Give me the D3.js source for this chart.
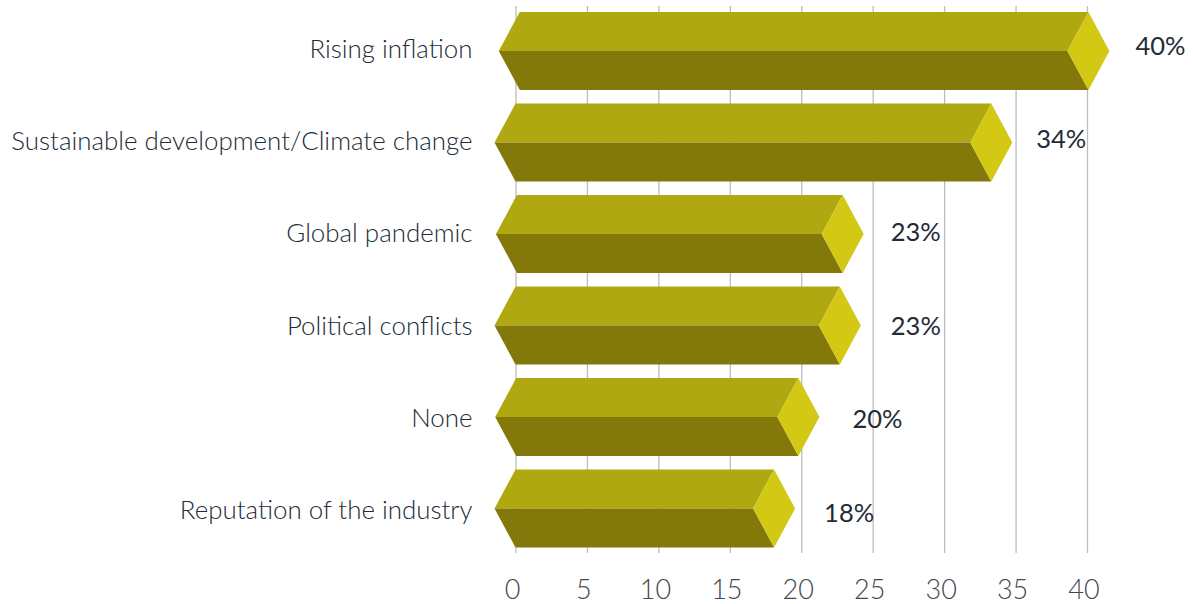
<!DOCTYPE html>
<html><head><meta charset="utf-8">
<script src="https://cdnjs.cloudflare.com/ajax/libs/d3/7.8.5/d3.min.js"></script>
<style>html,body{margin:0;background:#fff}svg{display:block}
text{font-family:Lato,"Open Sans",sans-serif;font-weight:300}</style></head>
<body><svg id="c" width="1193" height="604"></svg>
<script>
const categories=["Rising inflation","Sustainable development/Climate change","Global pandemic","Political conflicts","None","Reputation of the industry"];
const barStart=[0.3,0,0.1,0,0.05,0];
const barEnd=[40.1,33.3,22.9,22.7,19.8,18.1];
const labels=["40%","34%","23%","23%","20%","18%"];
const tickValues=[0,5,10,15,20,25,30,35,40];

const svg=d3.select("#c");
const x=d3.scaleLinear().domain([0,40]).range([515.5,1087]);
const y=d3.scaleBand().domain(categories).range([12,547.5]).paddingInner(0.149).paddingOuter(0);
const labelY=d3.scalePoint().domain(categories).range([54.5,521.5]);
const catY=d3.scalePoint().domain(categories).range([58,519]);
const depth=21;
const grid="#bdbdbd", ink="#232b36";

const axis=d3.axisBottom(x).tickValues(tickValues).tickSize(547).tickSizeOuter(0).tickPadding(24);
const ag=svg.append("g").attr("transform","translate(0,6)").call(axis);
ag.select(".domain").remove();
ag.selectAll(".tick line").attr("stroke",grid).attr("stroke-width",1.3);
ag.selectAll(".tick text").attr("fill","#43474f").attr("font-size",27).attr("dx",-3.5).attr("y",593).attr("dy",0);

const line=d3.line();
const rows=svg.append("g").selectAll("g").data(categories).join("g");
rows.each(function(c,i){
  const g=d3.select(this),t=y(c),h=y.bandwidth(),m=t+h/2,b=t+h,l=x(barStart[i]),r=x(barEnd[i]);
  const poly=(pts,f)=>g.append("path").attr("d",line(pts)+"Z").attr("fill",f);
  poly([[l,t],[r,t],[r-depth,m],[l-depth,m]],"#b0a810");
  poly([[l-depth,m],[r-depth,m],[r,b],[l,b]],"#82790a");
  poly([[r,t],[r+depth,m],[r,b],[r-depth,m]],"#d3c813");
});
const nudge=[-1,-3,0,3,6,2];
svg.append("g").selectAll("text").data(categories).join("text")
  .attr("x",472.5).attr("y",c=>catY(c)).attr("text-anchor","end")
  .attr("fill",ink).attr("font-size",25.9).text(c=>c);
svg.append("g").selectAll("text").data(categories).join("text")
  .attr("x",(c,i)=>x(barEnd[i])+48+nudge[i]).attr("y",c=>labelY(c))
  .attr("fill",ink).attr("font-size",25.5).style("font-weight",400).text((c,i)=>labels[i]);
</script></body></html>
